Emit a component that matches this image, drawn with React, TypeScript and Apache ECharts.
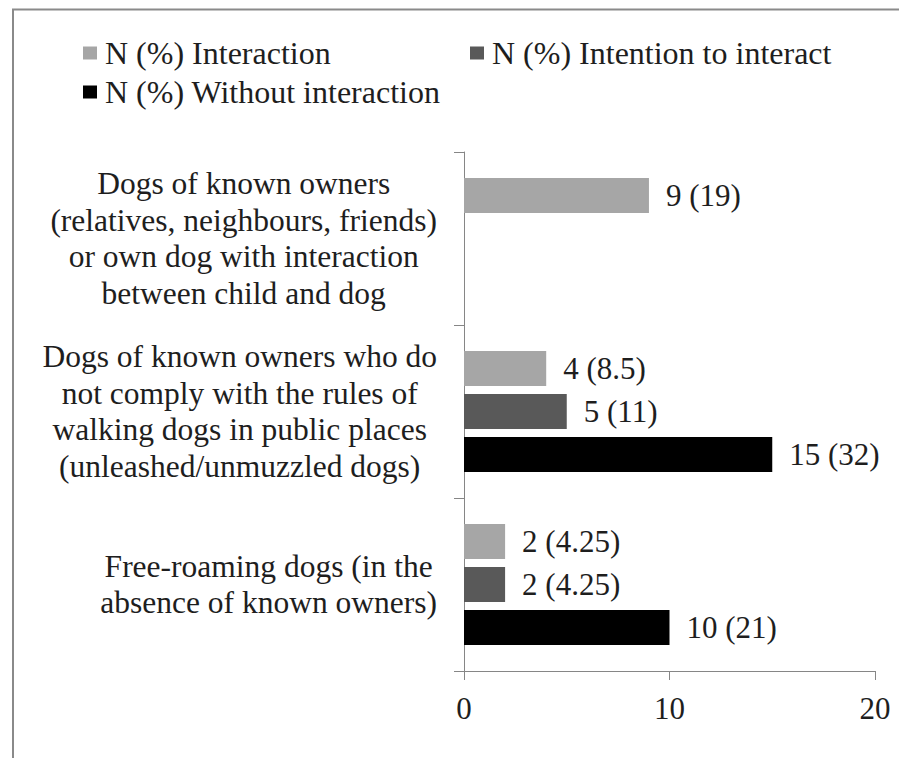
import React, { useEffect, useRef } from "react";
import * as echarts from "echarts";

// Categories listed bottom → top (ECharts category y-axis order)
const categories: string[] = [
  "Free-roaming dogs (in the\nabsence of known owners)",
  "Dogs of known owners who do\nnot comply with the rules of\nwalking dogs in public places\n(unleashed/unmuzzled dogs)",
  "Dogs of known owners\n(relatives, neighbours, friends)\nor own dog with interaction\nbetween child and dog",
];

const seriesNames: string[] = [
  "N (%) Interaction",
  "N (%) Intention to interact",
  "N (%) Without interaction",
];

const interactionN: (number | null)[] = [2, 4, 9];
const interactionPct: (number | null)[] = [4.25, 8.5, 19];
const intentionN: (number | null)[] = [2, 5, null];
const intentionPct: (number | null)[] = [4.25, 11, null];
const withoutN: (number | null)[] = [10, 15, null];
const withoutPct: (number | null)[] = [21, 32, null];

const xMin = 0;
const xMax = 20;
const xStep = 10;

const seriesColors = ["#a6a6a6", "#595959", "#000000"];

const FONT = "Liberation Serif";
const TEXT = "#1e1e1e";
const AXIS = "#868686";

function makeSeries(name: string, values: (number | null)[], pct: (number | null)[], color: string) {
  return {
    name,
    type: "bar",
    barWidth: 35,
    barGap: "23%",
    itemStyle: { color },
    data: values.map((v) => (v == null ? "-" : v)),
    label: {
      show: true,
      position: "right",
      distance: 17,
      fontFamily: FONT,
      fontSize: 31,
      color: TEXT,
      formatter: (p: any) => `${p.value} (${pct[p.dataIndex]})`,
    },
  };
}

export default function App() {
  const ref = useRef<HTMLDivElement>(null);

  useEffect(() => {
    if (!ref.current) return;
    const chart = echarts.init(ref.current, undefined, { renderer: "svg" });

    const legendBase = {
      orient: "horizontal",
      padding: 0,
      icon: "rect",
      itemWidth: 14,
      itemHeight: 13,
      itemGap: 0,
      textStyle: { fontFamily: FONT, fontSize: 32, color: TEXT, padding: [0, 0, 0, 3] },
      selectedMode: false,
    };

    chart.setOption({
      animation: false,
      backgroundColor: "#ffffff",
      textStyle: { fontFamily: FONT },
      graphic: [
        {
          type: "rect",
          shape: { x: 13, y: 9.5, width: 1000, height: 1000 },
          style: { fill: "none", stroke: "#8a8a8a", lineWidth: 2 },
          silent: true,
        },
      ],
      legend: [
        { ...legendBase, data: [seriesNames[0]], left: 83, top: 37 },
        { ...legendBase, data: [seriesNames[1]], left: 470, top: 37 },
        { ...legendBase, data: [seriesNames[2]], left: 83, top: 76 },
      ],
      grid: { left: 464, right: 24, top: 152, bottom: 87 },
      xAxis: {
        type: "value",
        min: xMin,
        max: xMax,
        interval: xStep,
        axisLine: { show: true, lineStyle: { color: AXIS, width: 1 } },
        axisTick: { show: true, length: 9, lineStyle: { color: AXIS } },
        splitLine: { show: false },
        axisLabel: { fontFamily: FONT, fontSize: 31, color: TEXT, margin: 22 },
      },
      yAxis: {
        type: "category",
        data: categories,
        axisLine: { show: true, lineStyle: { color: AXIS, width: 1 } },
        axisTick: { show: true, length: 10, lineStyle: { color: AXIS } },
        axisLabel: {
          margin: 27,
          align: "right",
          fontFamily: FONT,
          fontSize: 31.5,
          formatter: (v: string) =>
            v
              .split("\n")
              .map((l) => `{c|${l}}`)
              .join("\n"),
          rich: {
            c: {
              align: "center",
              fontFamily: FONT,
              fontSize: 31.5,
              lineHeight: 36.5,
              color: TEXT,
            },
          },
        },
      },
      series: [
        makeSeries(seriesNames[0], interactionN, interactionPct, seriesColors[0]),
        makeSeries(seriesNames[1], intentionN, intentionPct, seriesColors[1]),
        makeSeries(seriesNames[2], withoutN, withoutPct, seriesColors[2]),
      ],
    });

    return () => chart.dispose();
  }, []);

  return (
    <div
      ref={ref}
      style={{ position: "absolute", left: 0, top: 0, width: 899, height: 758 }}
    />
  );
}
